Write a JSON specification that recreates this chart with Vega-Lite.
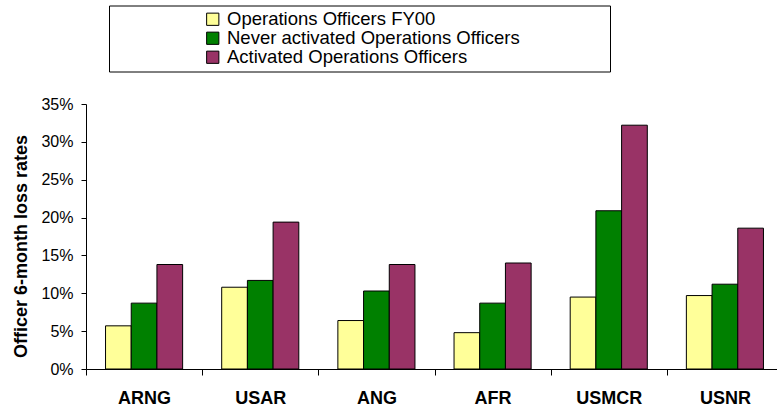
{
  "$schema": "https://vega.github.io/schema/vega-lite/v6.json",
  "width": 691,
  "height": 265,
  "autosize": {"type": "none"},
  "padding": {"left": 86, "top": 104, "right": 0, "bottom": 39},
  "background": "white",
  "config": {"view": {"stroke": null}, "font": "Liberation Sans"},
  "data": {
    "values": [
      {"component": "ARNG", "group": "Operations Officers FY00", "rate": 0.057},
      {"component": "ARNG", "group": "Never activated Operations Officers", "rate": 0.087},
      {"component": "ARNG", "group": "Activated Operations Officers", "rate": 0.138},
      {"component": "USAR", "group": "Operations Officers FY00", "rate": 0.108},
      {"component": "USAR", "group": "Never activated Operations Officers", "rate": 0.117},
      {"component": "USAR", "group": "Activated Operations Officers", "rate": 0.194},
      {"component": "ANG", "group": "Operations Officers FY00", "rate": 0.064},
      {"component": "ANG", "group": "Never activated Operations Officers", "rate": 0.103},
      {"component": "ANG", "group": "Activated Operations Officers", "rate": 0.138},
      {"component": "AFR", "group": "Operations Officers FY00", "rate": 0.048},
      {"component": "AFR", "group": "Never activated Operations Officers", "rate": 0.087},
      {"component": "AFR", "group": "Activated Operations Officers", "rate": 0.140},
      {"component": "USMCR", "group": "Operations Officers FY00", "rate": 0.095},
      {"component": "USMCR", "group": "Never activated Operations Officers", "rate": 0.209},
      {"component": "USMCR", "group": "Activated Operations Officers", "rate": 0.322},
      {"component": "USNR", "group": "Operations Officers FY00", "rate": 0.097},
      {"component": "USNR", "group": "Never activated Operations Officers", "rate": 0.112},
      {"component": "USNR", "group": "Activated Operations Officers", "rate": 0.186}
    ]
  },
  "mark": {"type": "bar", "stroke": "black", "strokeWidth": 1},
  "encoding": {
    "x": {
      "field": "component",
      "type": "nominal",
      "sort": ["ARNG", "USAR", "ANG", "AFR", "USMCR", "USNR"],
      "scale": {"range": [0, 697], "paddingInner": 0, "paddingOuter": 0},
      "axis": {
        "title": null,
        "labelAngle": 0,
        "labelFontSize": 18,
        "labelFontWeight": "bold",
        "labelColor": "black",
        "labelPadding": 14,
        "tickBand": "extent",
        "tickSize": 6,
        "tickColor": "black",
        "domainColor": "black",
        "grid": false
      }
    },
    "xOffset": {
      "field": "group",
      "type": "nominal",
      "sort": ["Operations Officers FY00", "Never activated Operations Officers", "Activated Operations Officers"],
      "scale": {"paddingInner": 0, "paddingOuter": 0.76}
    },
    "y": {
      "field": "rate",
      "type": "quantitative",
      "scale": {"domain": [0, 0.35], "nice": false},
      "axis": {
        "title": "Officer 6-month loss rates",
        "titleFontSize": 18,
        "titleFontWeight": "bold",
        "titleColor": "black",
        "titlePadding": 10,
        "titleY": 142,
        "values": [0, 0.05, 0.1, 0.15, 0.2, 0.25, 0.3, 0.35],
        "format": ".0%",
        "labelFontSize": 16,
        "labelColor": "black",
        "labelPadding": 8,
        "tickSize": 5,
        "tickColor": "black",
        "domainColor": "black",
        "grid": false
      }
    },
    "color": {
      "field": "group",
      "type": "nominal",
      "sort": ["Operations Officers FY00", "Never activated Operations Officers", "Activated Operations Officers"],
      "scale": {
        "domain": ["Operations Officers FY00", "Never activated Operations Officers", "Activated Operations Officers"],
        "range": ["#FFFF99", "#008000", "#993366"]
      },
      "legend": {
        "title": " ",
        "titleOrient": "right",
        "titlePadding": 86,
        "titleFontSize": 1,
        "orient": "none",
        "legendX": 23,
        "legendY": -98.5,
        "padding": 4.5,
        "strokeColor": "black",
        "fillColor": "white",
        "symbolType": "square",
        "symbolSize": 150,
        "symbolStrokeColor": "black",
        "symbolStrokeWidth": 1,
        "symbolOpacity": 1,
        "symbolOffset": 90,
        "labelOffset": 5,
        "labelFontSize": 18.5,
        "labelColor": "black",
        "labelLimit": 500,
        "rowPadding": 0
      }
    }
  }
}
